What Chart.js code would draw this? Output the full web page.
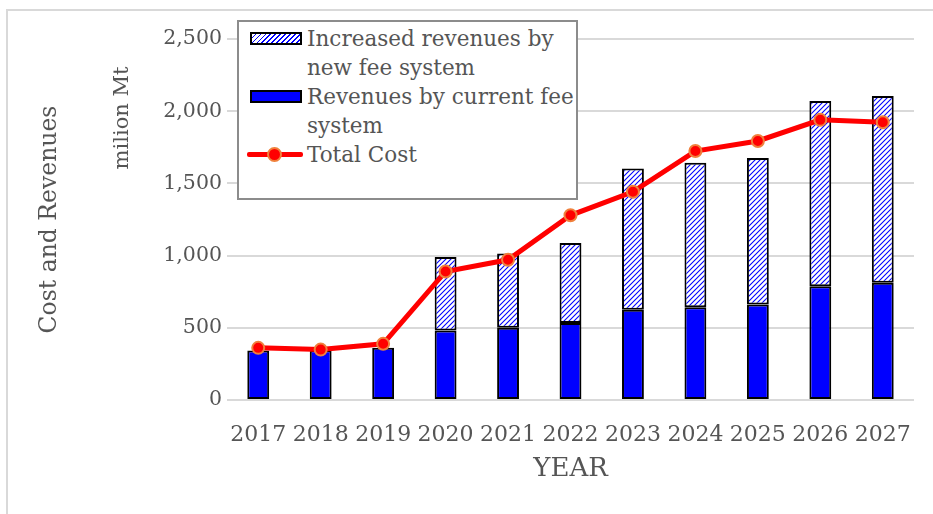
<!DOCTYPE html>
<html>
<head>
<meta charset="utf-8">
<script src="https://cdn.jsdelivr.net/npm/chart.js@4/dist/chart.umd.min.js"></script>
<style>
  body{ margin:0; background:#fff; }
  #wrap{ position:relative; width:933px; height:514px; overflow:hidden; font-family:"DejaVu Serif", serif; }
  #frame{ position:absolute; left:6px; top:9px; width:940px; height:520px; border-top:2px solid #d9d9d9; border-left:2px solid #d9d9d9; }
  #chart{ position:absolute; left:0; top:0; }
  #legend{ position:absolute; left:237px; top:20px; width:341px; height:180px; box-sizing:border-box;
    border:2px solid #8c8c8c; background:#fff; padding-top:2px; color:#555; font-size:21.5px; line-height:29px; }
  .item{ position:relative; padding-left:68px; white-space:nowrap; }
  .sw{ position:absolute; left:11px; top:8px; width:52px; height:13px; box-sizing:border-box; border:2px solid #000; }
  .sw.line{ left:8px; top:12px; width:56px; height:5px; border:none; background:#ff0000; border-radius:2px; }
  .sw.line i{ position:absolute; left:20px; top:-5px; width:11px; height:11px; border-radius:50%; background:#ff0000; border:2px solid #f0803c; }
</style>
</head>
<body>
<div id="wrap">
  <div id="frame"></div>
  <canvas id="chart" width="933" height="514"></canvas>
  <div id="legend"></div>
</div>
<script>
const years = ["2017","2018","2019","2020","2021","2022","2023","2024","2025","2026","2027"];
const currentRevenue = [342, 345, 361, 481, 500, 534, 625, 643, 662, 787, 812];
const increasedRevenue = [null, null, null, 509, 515, 553, 979, 1000, 1014, 1284, 1294];
const totalCost = [361, 349, 389, 890, 971, 1279, 1442, 1724, 1794, 1940, 1923];
const yTicks = [0, 500, 1000, 1500, 2000, 2500];

const labelIncreased = ["Increased revenues by", "new fee system"];
const labelCurrent = ["Revenues by current fee", "system"];
const labelCost = ["Total Cost"];

const grey = "#555";
const serif = "DejaVu Serif";

/* blue diagonal hatch for the new-fee part of the bars */
function hatch(){
  const s = 5;
  const c = document.createElement("canvas");
  c.width = s; c.height = s;
  const g = c.getContext("2d");
  g.fillStyle = "#fff";
  g.fillRect(0, 0, s, s);
  g.strokeStyle = "#0000ff";
  g.lineWidth = 1.1;
  g.beginPath();
  g.moveTo(-1, s + 1); g.lineTo(s + 1, -1);
  g.moveTo(-1, 1); g.lineTo(1, -1);
  g.moveTo(s - 1, s + 1); g.lineTo(s + 1, s - 1);
  g.stroke();
  return g.createPattern(c, "repeat");
}

/* second y title line */
const unitLabel = {
  id: "unitLabel",
  afterDraw(chart){
    const ctx = chart.ctx;
    ctx.save();
    ctx.translate(123, 118);
    ctx.rotate(-Math.PI / 2);
    ctx.font = "21px '" + serif + "'";
    ctx.fillStyle = grey;
    ctx.textAlign = "center";
    ctx.textBaseline = "middle";
    ctx.fillText("milion Mt", 0, 0);
    ctx.restore();
  }
};

const barStyle = {
  order: 1,
  borderColor: "#000",
  borderWidth: 2,
  borderSkipped: false,
  categoryPercentage: 1,
  barPercentage: 0.35
};

const chart = new Chart(document.getElementById("chart"), {
  type: "bar",
  data: {
    labels: years,
    datasets: [
      {
        type: "line",
        label: labelCost.join(" "),
        data: totalCost,
        order: 0,
        borderColor: "#ff0000",
        borderWidth: 5,
        tension: 0,
        pointRadius: 6,
        pointBackgroundColor: "#ff0000",
        pointBorderColor: "#f0803c",
        pointBorderWidth: 2
      },
      Object.assign({
        label: labelCurrent.join(" "),
        data: currentRevenue,
        backgroundColor: "#0000ff"
      }, barStyle),
      Object.assign({
        label: labelIncreased.join(" "),
        data: increasedRevenue,
        backgroundColor: hatch()
      }, barStyle)
    ]
  },
  options: {
    responsive: false,
    animation: false,
    devicePixelRatio: 1,
    layout: { padding: { left: 8, right: 19, top: 39, bottom: 0 } },
    plugins: { legend: { display: false }, tooltip: { enabled: false } },
    scales: {
      x: {
        stacked: true,
        grid: { display: false },
        border: { display: false },
        ticks: { color: grey, font: { family: serif, size: 22 }, padding: 14, maxRotation: 0 },
        title: { display: true, text: "YEAR", color: grey, font: { family: serif, size: 26 }, padding: { top: 0, bottom: 29 } },
        afterFit(s){ s.height = 114; }
      },
      y: {
        stacked: true,
        min: 0,
        max: 2500,
        afterBuildTicks(s){ s.ticks = yTicks.map(v => ({ value: v })); },
        grid: { color: "#d9d9d9", lineWidth: 2, drawTicks: false },
        border: { display: false },
        ticks: { color: grey, font: { family: serif, size: 20.5 }, padding: 5 },
        title: { display: true, text: "Cost and Revenues", color: grey, font: { family: serif, size: 23.5 }, padding: { top: 28, bottom: 0 } },
        afterFit(s){ s.width = 219; }
      }
    }
  },
  plugins: [unitLabel]
});

/* legend box inside the plot */
const legendItems = [
  { lines: labelIncreased, sw: "background:repeating-linear-gradient(135deg,#fff 0 2.2px,#0000ff 2.2px 3.5px)" },
  { lines: labelCurrent, sw: "background:#0000ff" },
  { lines: labelCost, line: true }
];
const legend = document.getElementById("legend");
legendItems.forEach(it => {
  const row = document.createElement("div");
  row.className = "item";
  const sw = document.createElement("span");
  if(it.line){
    sw.className = "sw line";
    sw.appendChild(document.createElement("i"));
  } else {
    sw.className = "sw";
    sw.style.cssText = it.sw;
  }
  row.appendChild(sw);
  it.lines.forEach(t => {
    const d = document.createElement("div");
    d.textContent = t;
    row.appendChild(d);
  });
  legend.appendChild(row);
});
</script>
</body>
</html>
